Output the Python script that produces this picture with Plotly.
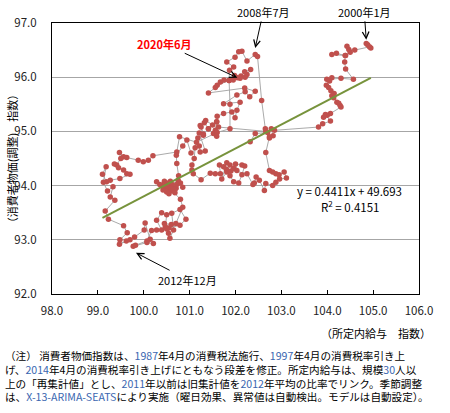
"""
Scatter path: scheduled wages vs. CPI (tax-adjusted), monthly 2000/1 - 2020/6
"""

import pandas as pd
import plotly.graph_objects as go

# 所定内給与 指数 (x) and 消費者物価指数 (y), one row per year, Jan -> Dec
wage = [
    104.85, 104.95, 104.88, 104.92, 104.60, 104.47, 104.43, 104.50, 104.40, 104.10, 104.20, 104.39,  # 2000
    104.38, 104.40, 104.57, 104.30, 103.99, 104.10, 104.05, 103.98, 104.03, 104.08, 104.15, 104.10,  # 2001
    104.14, 104.21, 104.28, 104.25, 104.30, 104.07, 104.00, 103.92, 103.96, 104.07, 103.90, 103.81,  # 2002
    102.85, 102.78, 102.82, 102.74, 102.70, 102.43, 102.32, 102.66, 101.63, 101.59, 101.56, 101.52,  # 2003
    101.59, 101.41, 101.50, 101.35, 101.25, 101.30, 101.18, 101.12, 101.10, 101.05, 101.05, 101.08,  # 2004
    101.25, 101.45, 101.56, 101.67, 101.65, 101.74, 101.81, 101.70, 101.81, 101.88, 101.96, 101.90,  # 2005
    102.03, 102.00, 102.14, 102.20, 102.14, 102.07, 101.96, 101.88, 101.80, 102.25, 102.38, 102.41,  # 2006
    102.45, 102.52, 102.63, 102.66, 102.81, 102.88, 102.96, 103.11, 103.06, 102.95, 102.88, 102.81,  # 2007
    102.74, 102.66, 102.74, 102.65, 102.57, 102.48, 102.43, 102.25, 102.14, 102.07, 101.99, 101.81,  # 2008
    101.96, 101.87, 101.86, 101.88, 101.88, 101.60, 101.15, 100.78, 100.72, 100.20, 100.10, 99.99,   # 2009
    99.88, 99.63, 99.56, 99.47, 99.50, 99.41, 99.36, 99.45, 99.56, 99.63, 99.70, 99.48,              # 2010
    99.27, 99.19, 99.10, 99.18, 99.12, 99.21, 99.33, 99.27, 99.37, 99.16, 99.23, 99.56,              # 2011
    99.64, 99.48, 99.70, 99.47, 99.62, 99.80, 100.01, 100.03, 100.14, 100.21, 100.07, 99.77,         # 2012
    99.82, 100.07, 100.17, 100.28, 100.39, 100.28, 100.39, 100.50, 100.47, 100.54, 100.57, 100.65,   # 2013
    100.61, 100.79, 100.92, 100.79, 100.55, 100.45, 100.60, 100.50, 100.70, 100.85, 100.80, 100.62,  # 2014
    100.70, 100.55, 100.60, 100.50, 100.45, 100.40, 100.55, 100.65, 100.58, 100.50, 100.68, 100.62,  # 2015
    100.75, 100.85, 100.80, 100.70, 100.52, 100.45, 100.35, 100.42, 100.28, 100.48, 100.60, 100.72,  # 2016
    100.76, 100.72, 100.71, 100.85, 100.94, 101.03, 101.21, 101.23, 101.34, 101.21, 101.30, 101.23,  # 2017
    101.32, 101.41, 101.59, 101.60, 101.74, 101.92, 101.99, 102.03, 102.10, 101.74, 102.03, 102.21,  # 2018
    102.31, 102.43, 102.20, 101.41, 101.56, 101.67, 101.60, 101.86, 101.75, 102.21, 102.25, 102.33,  # 2019
    102.20, 102.12, 101.98, 102.10, 101.95, 102.04,                                                  # 2020
]

cpi = [
    96.62, 96.54, 96.60, 96.56, 96.50, 96.51, 96.57, 96.46, 96.40, 96.42, 96.44, 96.40,  # 2000
    96.28, 96.15, 95.96, 95.98, 95.96, 95.99, 95.93, 95.85, 95.81, 95.75, 95.70, 95.66,  # 2001
    95.62, 95.54, 95.48, 95.52, 95.45, 95.33, 95.30, 95.26, 95.31, 95.19, 95.14, 95.08,  # 2002
    95.02, 95.05, 94.92, 94.88, 94.98, 94.96, 94.81, 95.00, 95.08, 95.18, 95.02, 94.96,  # 2003
    94.91, 95.05, 95.12, 95.20, 95.08, 94.95, 94.88, 94.70, 94.50, 94.38, 94.29, 94.22,  # 2004
    94.11, 94.23, 94.22, 94.22, 94.38, 94.35, 94.42, 94.12, 94.25, 94.38, 94.32, 94.27,  # 2005
    94.28, 94.40, 94.38, 94.36, 94.20, 94.05, 94.07, 94.18, 94.30, 94.22, 94.02, 94.05,  # 2006
    94.16, 94.10, 93.91, 94.04, 94.00, 94.06, 94.12, 94.14, 94.25, 94.20, 94.22, 94.25,  # 2007
    94.28, 94.61, 94.90, 95.05, 95.57, 96.38, 96.42, 96.30, 96.48, 96.47, 96.37, 96.28,  # 2008
    96.19, 96.13, 95.94, 95.50, 95.05, 94.98, 94.80, 94.90, 94.62, 94.55, 94.47, 94.44,  # 2009
    94.47, 94.52, 94.53, 94.61, 94.50, 94.38, 94.40, 94.33, 94.29, 94.22, 94.21, 94.13,  # 2010
    94.10, 94.07, 94.21, 94.35, 94.06, 93.90, 93.98, 93.79, 93.73, 93.53, 93.38, 93.26,  # 2011
    93.13, 93.00, 93.00, 92.92, 92.98, 93.05, 93.18, 93.31, 93.01, 92.93, 92.95, 92.88,  # 2012
    92.90, 92.98, 93.17, 93.18, 93.18, 93.36, 93.50, 93.46, 93.24, 93.12, 93.03, 93.18,  # 2013
    93.49, 93.56, 93.38, 93.27, 93.22, 93.30, 93.28, 93.20, 93.30, 93.60, 93.75, 93.90,  # 2014
    93.95, 93.90, 94.00, 94.05, 93.95, 94.00, 93.85, 93.92, 94.08, 93.88, 93.87, 94.02,  # 2015
    94.10, 93.97, 94.05, 93.95, 93.98, 94.08, 94.02, 93.92, 94.07, 94.00, 93.95, 94.02,  # 2016
    94.18, 94.41, 94.56, 94.73, 94.84, 94.60, 94.73, 94.62, 94.64, 94.97, 94.93, 95.11,  # 2017
    95.16, 95.05, 95.18, 95.28, 95.33, 95.36, 95.25, 95.39, 95.54, 95.51, 95.67, 95.73,  # 2018
    95.64, 95.74, 95.80, 95.71, 95.81, 95.91, 95.85, 95.94, 95.95, 96.00, 96.05, 96.14,  # 2019
    96.10, 96.02, 96.03, 95.98, 95.95, 95.99,                                            # 2020
]

# trend line printed on the chart
slope = 0.4411
intercept = 49.693
r_squared = 0.4151

months = pd.date_range("2000-01-01", periods=len(wage), freq="MS").strftime("%Y年%-m月")

FONT = "Noto Sans CJK JP"
BLUE = "#3a66b0"

fig = go.Figure()

# monthly path
fig.add_trace(go.Scatter(
    x=wage,
    y=cpi,
    mode="lines+markers",
    line=dict(color="#a0a0a0", width=0.9),
    marker=dict(color="#c0504d", size=5.5),
    text=months,
    hovertemplate="%{text}<br>%{x:.2f}, %{y:.2f}<extra></extra>",
))

# linear trend
x_fit = [min(wage), max(wage)]
fig.add_trace(go.Scatter(
    x=x_fit,
    y=[slope * v + intercept for v in x_fit],
    mode="lines",
    line=dict(color="#77933c", width=2),
    hoverinfo="skip",
))

arrow = dict(showarrow=True, arrowhead=5, arrowsize=1.3, arrowwidth=1,
             arrowcolor="#000000", font=dict(family=FONT, size=11, color="#000000"))

# labelled months
fig.add_annotation(x=wage[102], y=cpi[102] + 0.12, text="2008年7月", ax=8, ay=-36, **arrow)
fig.add_annotation(x=wage[0], y=cpi[0] + 0.07, text="2000年1月", ax=-2, ay=-28, **arrow)
fig.add_annotation(x=wage[155] + 0.06, y=cpi[155] - 0.12, text="2012年12月", ax=52, ay=27, **arrow)
fig.add_annotation(x=wage[-1], y=cpi[-1], text="<b>2020年6月</b>", ax=-73, ay=-34,
                   **{**arrow, "font": dict(family=FONT, size=11, color="#ff0000")})

# equation
fig.add_annotation(x=104.48, y=93.90, text=f"y = {slope}x + {intercept}", showarrow=False,
                   xanchor="center", yanchor="middle",
                   font=dict(family=FONT, size=11.5, color="#000000"))
fig.add_annotation(x=104.5, y=93.62, text=f"R<sup>2</sup> = {r_squared}", showarrow=False,
                   xanchor="center", yanchor="middle",
                   font=dict(family=FONT, size=11.5, color="#000000"))

# axis titles
fig.add_annotation(xref="paper", yref="paper", x=-0.11, y=0.5, textangle=-90,
                   xanchor="center", yanchor="middle",
                   text="（消費者物価(調整)　指数）", showarrow=False,
                   font=dict(family=FONT, size=11, color="#000000"))
fig.add_annotation(xref="paper", yref="paper", x=1.038, y=-0.144,
                   xanchor="right", yanchor="middle",
                   text="（所定内給与　指数）", showarrow=False,
                   font=dict(family=FONT, size=11, color="#000000"))


def blue(s):
    return f'<span style="color:{BLUE}">{s}</span>'


note = (
    f"（注） 消費者物価指数は、{blue('1987')}年4月の消費税法施行、{blue('1997')}年4月の消費税率引き上<br>"
    f"げ、{blue('2014')}年4月の消費税率引き上げにともなう段差を修正。所定内給与は、規模{blue('30')}人以<br>"
    f"上の「再集計値」とし、{blue('2011')}年以前は旧集計値を{blue('2012')}年平均の比率でリンク。季節調整<br>"
    f"は、{blue('X-13-ARIMA-SEATS')}により実施（曜日効果、異常値は自動検出。モデルは自動設定）。"
)
fig.add_annotation(xref="paper", yref="paper", x=-0.133, y=-0.192, xanchor="left", yanchor="top",
                   align="left", text=note, showarrow=False,
                   font=dict(family=FONT, size=10.6, color="#000000"))

fig.update_xaxes(
    range=[98, 106], dtick=1, tickformat=".1f", automargin=False,
    showgrid=False, zeroline=False,
    showline=True, mirror=True, linecolor="#000000", linewidth=1,
    ticks="inside", ticklen=4, tickcolor="#000000",
    ticklabelstandoff=6,
    tickfont=dict(family=FONT, size=11.5, color="#222222"),
)
fig.update_yaxes(
    range=[92, 97], dtick=1, tickformat=".1f", automargin=False,
    showgrid=True, gridcolor="#a6a6a6", gridwidth=1.2, zeroline=False,
    showline=True, mirror=True, linecolor="#000000", linewidth=1,
    ticks="", ticklabelstandoff=12,
    tickfont=dict(family=FONT, size=11.5, color="#222222"),
)

fig.update_layout(
    width=450, height=413,
    margin=dict(l=52, r=31, t=23, b=119),
    plot_bgcolor="#ffffff",
    paper_bgcolor="#ffffff",
    showlegend=False,
    font=dict(family=FONT),
)

# drop the default 8px page margin so the figure sits at the window corner
fig.write_html("out.html", config={"displayModeBar": False},
               post_script="document.body.style.margin = '0';")
